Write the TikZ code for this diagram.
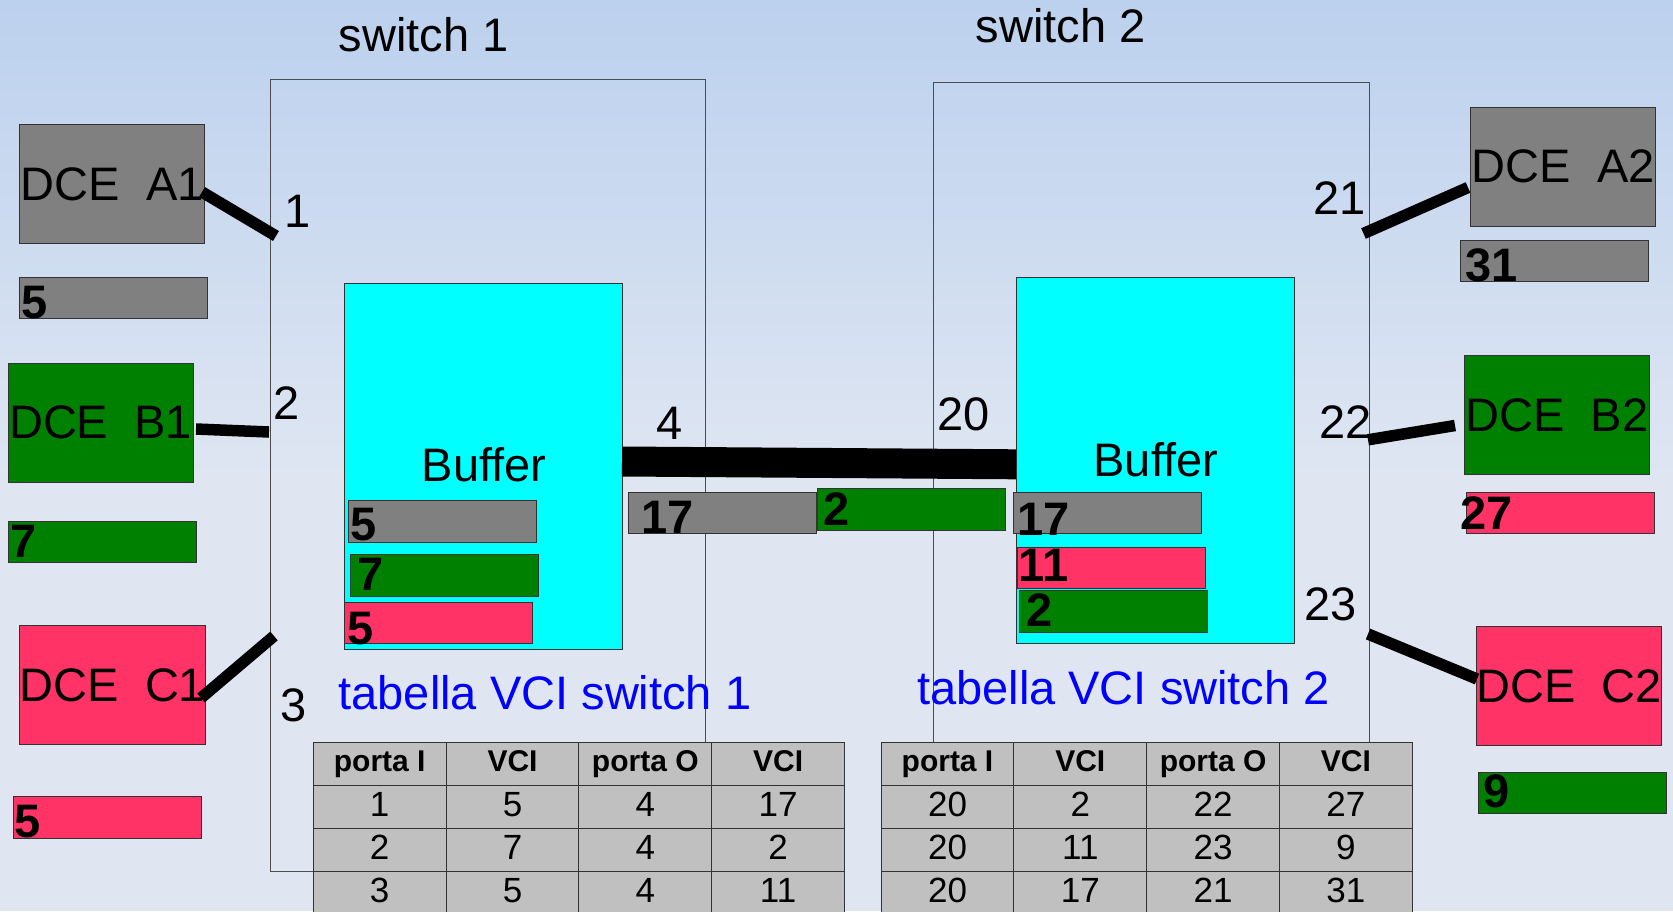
\documentclass[tikz,border=0pt]{standalone}
\usepackage{fontspec}
\setmainfont{Liberation Sans}
\usetikzlibrary{calc}

\definecolor{dcegray}{RGB}{128,128,128}
\definecolor{dcegreen}{RGB}{0,128,0}
\definecolor{dcepink}{RGB}{255,51,102}
\definecolor{bufcyan}{RGB}{0,255,255}
\definecolor{tabgray}{RGB}{192,192,192}
\definecolor{bgtop}{RGB}{188,209,238}
\definecolor{bgbot}{RGB}{223,230,242}
\definecolor{edge}{RGB}{51,51,51}
\definecolor{titleblue}{RGB}{0,0,255}

\begin{document}
\begin{tikzpicture}[x=1pt,y=-1pt,
  big/.style={font=\fontsize{47}{56}\selectfont},
  box/.style={draw=edge, line width=1pt, inner sep=0pt, anchor=north west},
  dcebox/.style={box, big, minimum width=185pt, minimum height=119pt},
  vcibar/.style={box, minimum width=188pt, minimum height=41.6pt},
  vcinum/.style={font=\fontsize{47}{56}\selectfont\bfseries, anchor=base west, inner sep=0pt},
  portnum/.style={big, anchor=base west, inner sep=0pt},
  title/.style={big, anchor=base, inner sep=0pt},
  buffer/.style={box, fill=bufcyan, minimum width=278pt, minimum height=366.5pt},
  switchbox/.style={draw=black!70, line width=1.2pt, inner sep=0pt, anchor=north west},
  wire/.style={line width=11.5pt},
  trunk/.style={line width=30pt},
  cell/.style={box, fill=tabgray, minimum width=132.8pt, minimum height=43.1pt},
  hcell/.style={cell, font=\fontsize{30}{36}\selectfont\bfseries, text height=21pt, text depth=6pt},
  dcell/.style={cell, font=\fontsize{35}{42}\selectfont, text height=25pt, text depth=6pt},
]
\useasboundingbox (0,0) rectangle (1673,911);
\clip (0,0) rectangle (1673,911);

% background
\shade[top color=bgtop, bottom color=bgbot] (0,0) rectangle (1673,480);
\fill[bgbot] (0,479) rectangle (1673,911);

% switches
\node[switchbox, minimum width=435pt, minimum height=792pt] (sw1) at (270,79) {};
\node[switchbox, minimum width=436.5pt, minimum height=789pt] (sw2) at (932.5,82) {};
\node[title] (sw1title) at (423.7,51) {switch 1};
\node[title] (sw2title) at (1060.5,42.7) {switch 2};

% VCI tables
\node[title, text=titleblue] (tab1title) at (545,709.6) {tabella VCI switch 1};
\node[title, text=titleblue] (tab2title) at (1123.5,704.4) {tabella VCI switch 2};
\foreach [count=\c from 0] \t in {porta I,VCI,porta O,VCI} {
  \node[hcell] (ta-h\c) at (312.8+\c*132.8,741.6) {\t};
  \node[hcell] (tb-h\c) at (880.6+\c*132.8,741.6) {\t};
}
\foreach [count=\r from 1] \row in {{1,5,4,17},{2,7,4,2},{3,5,4,11}} {
  \foreach [count=\c from 0] \v in \row
    \node[dcell] (ta-\r-\c) at (312.8+\c*132.8,741.6+\r*43.1) {\v};
}
\foreach [count=\r from 1] \row in {{20,2,22,27},{20,11,23,9},{20,17,21,31}} {
  \foreach [count=\c from 0] \v in \row
    \node[dcell] (tb-\r-\c) at (880.6+\c*132.8,741.6+\r*43.1) {\v};
}

% buffers
\node[buffer] (buf1) at (344,282.5) {};
\node[buffer] (buf2) at (1016,276.7) {};
\node[title] (buf1txt) at (484,481.7) {Buffer};
\node[title] (buf2txt) at (1155.8,476.7) {Buffer};

% cells queued in switch 1
\node[vcibar, fill=dcegray]  (q1a) at (347.5,500.2) {};
\node[vcibar, fill=dcegreen] (q1b) at (350.2,554) {};
\node[vcibar, fill=dcepink]  (q1c) at (344,601.8) {};
\node[vcinum] (q1an) at (350.5,540.7) {5};
\node[vcinum] (q1bn) at (357,590.7) {7};
\node[vcinum] (q1cn) at (347,644) {5};

% cells on the trunk
\node[vcibar, fill=dcegray]  (ta) at (628.3,491.8) {};
\node[vcibar, fill=dcegreen] (tb) at (816.5,488.3) {};
\node[vcinum] (tan) at (641,533.3) {17};
\node[vcinum] (tbn) at (823,525) {2};

% cells queued in switch 2
\node[vcibar, fill=dcegray]  (q2a) at (1013.3,491.7) {};
\node[vcibar, fill=dcepink]  (q2b) at (1016.7,546.7) {};
\node[vcibar, fill=dcegreen] (q2c) at (1019.3,590) {};
\node[vcinum] (q2an) at (1017,535) {17};
\node[vcinum] (q2bn) at (1018.5,581.7) {11};
\node[vcinum] (q2cn) at (1026,626) {2};

% terminals
\node[dcebox, fill=dcegray]  (dceA1) at (19.3,124) {DCE~~A1};
\node[dcebox, fill=dcegreen] (dceB1) at (7.5,362.8) {DCE~~B1};
\node[dcebox, fill=dcepink]  (dceC1) at (19.2,625.3) {DCE~~C1};
\node[dcebox, fill=dcegray]  (dceA2) at (1470.3,106.7) {DCE~~A2};
\node[dcebox, fill=dcegreen] (dceB2) at (1464,355.3) {DCE~~B2};
\node[dcebox, fill=dcepink]  (dceC2) at (1475.7,626.3) {DCE~~C2};

% cells at the terminals
\node[vcibar, fill=dcegray]  (eA1) at (19,276.5) {};
\node[vcibar, fill=dcegreen] (eB1) at (7.5,520.7) {};
\node[vcibar, fill=dcepink]  (eC1) at (12.8,796) {};
\node[vcibar, fill=dcegray]  (eA2) at (1459.5,239.6) {};
\node[vcibar, fill=dcepink]  (eB2) at (1465.5,491.7) {};
\node[vcibar, fill=dcegreen] (eC2) at (1477.7,771.7) {};
\node[vcinum] (eA1n) at (21,318) {5};
\node[vcinum] (eB1n) at (10.5,557) {7};
\node[vcinum] (eC1n) at (14,837.6) {5};
\node[vcinum] (eA2n) at (1465.5,281) {31};
\node[vcinum] (eB2n) at (1460,529.8) {27};
\node[vcinum] (eC2n) at (1483.5,807) {9};

% port numbers
\node[portnum] (p1)  at (284,227) {1};
\node[portnum] (p2)  at (273,419) {2};
\node[portnum] (p3)  at (280,721) {3};
\node[portnum] (p4)  at (656,439.3) {4};
\node[portnum] (p20) at (937,430) {20};
\node[portnum] (p21) at (1313,214) {21};
\node[portnum] (p22) at (1319,438.9) {22};
\node[portnum] (p23) at (1304,620.7) {23};

% link end points
\coordinate (a1out) at (202,192);   \coordinate (port1)  at (276,236);
\coordinate (b1out) at (196,429);   \coordinate (port2)  at (269,432);
\coordinate (c1out) at (201,698);   \coordinate (port3)  at (274,636);
\coordinate (a2out) at (1468,187.5);\coordinate (port21) at (1363.5,233.5);
\coordinate (b2out) at (1455,425.5);\coordinate (port22) at (1368,439.8);
\coordinate (c2out) at (1477,679);  \coordinate (port23) at (1368,634);
\coordinate (port4) at (622,461.5); \coordinate (port20) at (1016,464.3);

% access links and trunk
\draw[wire] (a1out) -- (port1);
\draw[wire] (b1out) -- (port2);
\draw[wire] (c1out) -- (port3);
\draw[wire] (a2out) -- (port21);
\draw[wire] (b2out) -- (port22);
\draw[wire] (c2out) -- (port23);
\draw[trunk] (port4) -- (port20);
\end{tikzpicture}
\end{document}
